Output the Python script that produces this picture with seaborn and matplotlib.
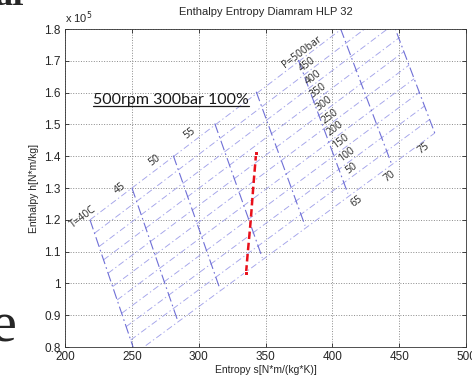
import matplotlib
matplotlib.use("Agg")
import matplotlib.pyplot as plt
import seaborn as sns
import pandas as pd
from matplotlib.ticker import FormatStrFormatter, MultipleLocator

# isotherms: end points (s, h in 1e5) at P=500bar and at the lowest isobar
temps = [40, 45, 50, 55, 60, 65, 70, 75]
s_top = [218.7, 250.1, 281.0, 312.0, 343.0, 374.5, 406.0, 438.0]
h_top = [1.200, 1.300, 1.402, 1.503, 1.603, 1.703, 1.802, 1.900]
s_bot = [252.5, 284.5, 316.0, 347.5, 379.5, 411.5, 444.0, 476.5]
h_bot = [0.780, 0.880, 0.981, 1.081, 1.182, 1.283, 1.378, 1.473]

# isobars: end points on the T=40 and T=75 isotherms
pressures = [500, 450, 400, 350, 300, 250, 200, 150, 100, 50, 0]
s_left = [218.7, 222.1, 225.5, 228.8, 232.2, 235.6, 239.0, 242.4, 245.7, 249.1, 252.5]
h_left = [1.200, 1.158, 1.116, 1.074, 1.032, 0.990, 0.948, 0.906, 0.864, 0.822, 0.780]
s_right = [438.0, 441.9, 445.7, 449.6, 453.4, 457.3, 461.1, 465.0, 468.8, 472.7, 476.5]
h_right = [1.900, 1.857, 1.815, 1.772, 1.729, 1.687, 1.644, 1.601, 1.558, 1.516, 1.473]

p_labels = ["P=500bar", "450", "400", "350", "300", "250", "200", "150", "100", "50"]
p_label_s = [377.3, 381.4, 385.5, 389.6, 393.8, 397.9, 402.0, 406.1, 410.2, 414.3]
p_label_h = [1.728, 1.687, 1.646, 1.605, 1.564, 1.526, 1.486, 1.445, 1.404, 1.363]

t_labels = ["T=40C", "45", "50", "55", "65", "70", "75"]
t_label_s = [213.5, 241.1, 267.3, 293.5, 418.2, 443.1, 468.1]
t_label_h = [1.209, 1.300, 1.388, 1.473, 1.257, 1.336, 1.425]

# compression process 500rpm 300bar 100%
proc_s = [342.9, 340.8, 338.9, 336.4, 335.4]
proc_h = [1.410, 1.304, 1.199, 1.084, 1.033]

iso_t = pd.DataFrame({
    "s": s_top + s_bot,
    "h": h_top + h_bot,
    "T": temps + temps,
})
iso_p = pd.DataFrame({
    "s": s_left + s_right,
    "h": h_left + h_right,
    "P": pressures + pressures,
})
proc = pd.DataFrame({"s": proc_s, "h": proc_h})

sns.set_style("ticks")
plt.rcParams["font.family"] = ["Liberation Sans", "DejaVu Sans"]
plt.rcParams["xtick.direction"] = "in"
plt.rcParams["ytick.direction"] = "in"

fig = plt.figure(figsize=(4.72, 3.78), dpi=100)
ax = fig.add_axes([0.1377, 0.082, 0.850, 0.841])

sns.lineplot(data=iso_p, x="s", y="h", units="P", estimator=None, sort=False,
             color="#a3a3ea", linestyle=(0, (7, 3, 1.5, 3)), linewidth=0.65, ax=ax)
sns.lineplot(data=iso_t, x="s", y="h", units="T", estimator=None, sort=False,
             color="#6f6fd6", linestyle=(0, (9, 3, 1.5, 3)), linewidth=0.8, ax=ax)
sns.lineplot(data=proc, x="s", y="h", estimator=None, sort=False,
             color="#e8101a", linestyle=(0, (3, 1.5)), linewidth=1.8,
             marker="s", markersize=3.5, markevery=[0, len(proc) - 1], ax=ax)

for lab, s, h in zip(p_labels, p_label_s, p_label_h):
    ax.text(s, h, lab, rotation=37, ha="center", va="center",
            fontsize=7.5, color="#2a2a2a", family="Open Sans")
for lab, s, h in zip(t_labels, t_label_s, t_label_h):
    ax.text(s, h, lab, rotation=37, ha="center", va="center",
            fontsize=7.5, color="#2a2a2a", family="Open Sans")

note = ax.text(279.3, 1.577, "500rpm 300bar 100%", ha="center", va="center",
               fontsize=11.5, color="#1a1a1a", family="Lato")

ax.set_xlim(200, 500)
ax.set_ylim(0.8, 1.8)
ax.xaxis.set_major_locator(MultipleLocator(50))
ax.yaxis.set_major_locator(MultipleLocator(0.1))
ax.yaxis.set_major_formatter(FormatStrFormatter("%g"))
ax.grid(True, linestyle=":", color="#8a8a8a", linewidth=0.7)
ax.tick_params(labelsize=8.5, length=3, width=0.6, top=True, right=True, pad=3)
for sp in ax.spines.values():
    sp.set_linewidth(0.6)
    sp.set_color("#333333")

ax.set_xlabel("Entropy s[N*m/(kg*K)]", fontsize=7.5, labelpad=1)
ax.set_ylabel("Enthalpy h[N*m/kg]", fontsize=7.5, labelpad=4)
ax.set_title("Enthalpy Entropy Diamram HLP 32", fontsize=8, pad=10)
ax.text(0.0, 1.01, r"x 10$^5$", transform=ax.transAxes, fontsize=8,
        ha="left", va="bottom")

# bits of the surrounding document text
fig.text(-0.01, 1 - 5 / 378, "ar", fontsize=26, weight="bold",
         family="Liberation Serif", va="baseline")
fig.text(-0.02, 1 - 342 / 378, "e", fontsize=42,
         family="Liberation Serif", va="baseline")

# underline for the note
fig.canvas.draw()
bb = note.get_window_extent().transformed(ax.transAxes.inverted())
ax.plot([bb.x0, bb.x1], [bb.y0 + 0.002, bb.y0 + 0.002], transform=ax.transAxes,
        color="#1a1a1a", linewidth=0.9)

fig.savefig("out.png", dpi=100)
